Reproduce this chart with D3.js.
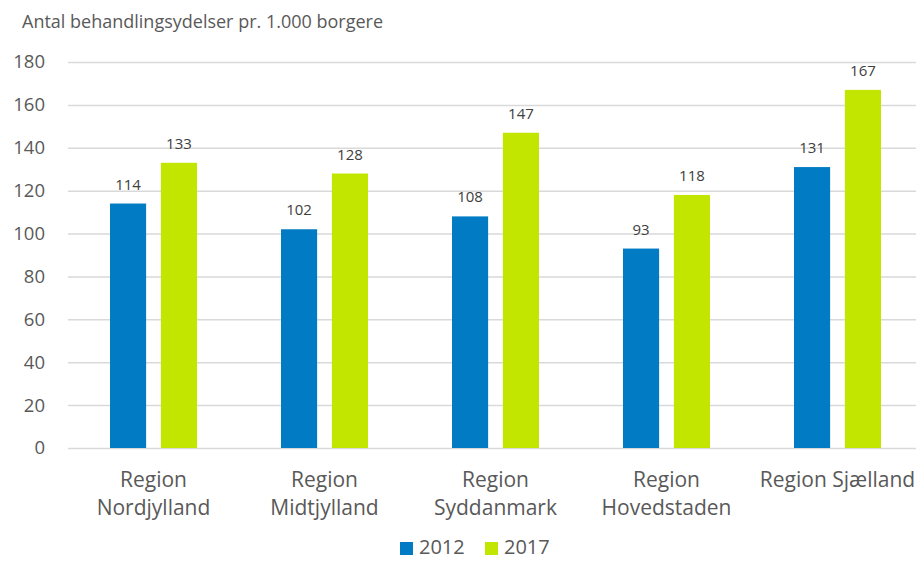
<!DOCTYPE html>
<html>
<head>
<meta charset="utf-8">
<script src="https://cdn.jsdelivr.net/npm/d3@7"></script>
<style>
  body { margin: 0; background: #fff; }
  text { font-family: "Open Sans", sans-serif; fill: #595959; }
</style>
</head>
<body>
<div id="chart"></div>
<script>
// data
const regions = [["Region", "Nordjylland"], ["Region", "Midtjylland"], ["Region", "Syddanmark"], ["Region", "Hovedstaden"], ["Region Sjælland"]];
const years = ["2012", "2017"];
const values2012 = [114, 102, 108, 93, 131];
const values2017 = [133, 128, 147, 118, 167];
const yTicks = [0, 20, 40, 60, 80, 100, 120, 140, 160, 180];
const title = "Antal behandlingsydelser pr. 1.000 borgere";

const width = 916, height = 561;
const colors = { "2012": "#007bc4", "2017": "#c3e600" };

const svg = d3.select("#chart").append("svg")
    .attr("width", width)
    .attr("height", height);

const x0 = d3.scaleBand()
    .domain(d3.range(regions.length))
    .range([68, 923]);

const x1 = d3.scaleBand()
    .domain(years)
    .range([x0.bandwidth() / 2 - 43.5, x0.bandwidth() / 2 + 43.5])
    .paddingInner(0.29);

const y = d3.scaleLinear()
    .domain([0, 180])
    .range([448, 62]);

// title
svg.append("text")
   .attr("x", 22)
   .attr("y", 28)
   .style("font-size", "18px")
   .text(title);

// gridlines + y labels
const yAxis = svg.append("g")
    .attr("transform", "translate(68,0)")
    .call(d3.axisLeft(y).tickValues(yTicks).tickSize(-(width - 68)).tickPadding(23));
yAxis.select(".domain").remove();
yAxis.selectAll(".tick line").attr("stroke", "#d9d9d9").attr("stroke-width", 1.5);
yAxis.selectAll(".tick text")
     .attr("fill", "#595959")
     .style("font-family", "'Open Sans', sans-serif")
     .style("font-size", "18.5px");

const data = regions.map((r, i) => ({ i: i, vals: [ { k: "2012", v: values2012[i] }, { k: "2017", v: values2017[i] } ] }));

const groups = svg.selectAll("g.grp")
    .data(data)
    .enter()
    .append("g")
    .attr("class", "grp")
    .attr("transform", d => `translate(${x0(d.i)},0)`);

groups.selectAll("rect")
    .data(d => d.vals)
    .enter()
    .append("rect")
    .attr("x", d => x1(d.k))
    .attr("width", x1.bandwidth())
    .attr("y", d => y(d.v))
    .attr("height", d => y(0) - y(d.v))
    .attr("fill", d => colors[d.k]);

groups.selectAll("text.val")
    .data(d => d.vals)
    .enter()
    .append("text")
    .attr("class", "val")
    .attr("x", d => x1(d.k) + x1.bandwidth() / 2)
    .attr("y", d => y(d.v) - 14)
    .attr("text-anchor", "middle")
    .style("font-size", "15px")
    .style("fill", "#404040")
    .text(d => d.v);

// category labels
svg.selectAll("text.cat")
   .data(regions)
   .enter()
   .append("text")
   .attr("class", "cat")
   .attr("text-anchor", "middle")
   .attr("x", (d, i) => x0(i) + x0.bandwidth() / 2)
   .attr("y", 487)
   .style("font-size", "21px")
   .selectAll("tspan")
   .data(d => d)
   .enter()
   .append("tspan")
   .attr("x", function() { return d3.select(this.parentNode).attr("x"); })
   .attr("dy", (d, j) => j === 0 ? 0 : 28)
   .text(d => d);

// legend
const legend = svg.append("g");
const legX = [400, 485];
years.forEach((yr, i) => {
    legend.append("rect")
        .attr("x", legX[i])
        .attr("y", 542)
        .attr("width", 13)
        .attr("height", 13)
        .attr("fill", colors[yr]);
    legend.append("text")
        .attr("x", legX[i] + 19)
        .attr("y", 554)
        .style("font-size", "20px")
        .text(yr);
});
</script>
</body>
</html>
